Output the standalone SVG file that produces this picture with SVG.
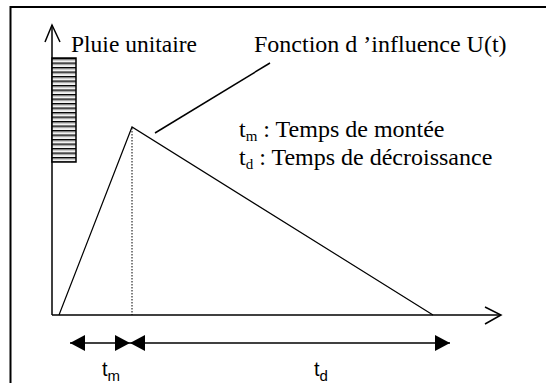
<svg xmlns="http://www.w3.org/2000/svg" width="546" height="383" viewBox="0 0 546 383">
<style>
.ser{font-family:'Liberation Serif','Times New Roman','DejaVu Serif',serif;fill:#000}
.san{font-family:'Liberation Sans',Arial,'DejaVu Sans',sans-serif;fill:#000}
.ln{stroke:#000;fill:none}
</style>
<defs>
<pattern id="hatch" x="0" y="58" width="24" height="4.5" patternUnits="userSpaceOnUse">
<rect x="0" y="0" width="24" height="1.5" fill="#000"/>
<rect x="0" y="1.5" width="24" height="1.5" fill="#bdbdbd"/>
<rect x="0" y="3" width="24" height="1.5" fill="#f4f4f4"/>
</pattern>
<marker id="fa" viewBox="0 0 15 16" refX="15" refY="8" markerWidth="15" markerHeight="16" markerUnits="userSpaceOnUse" orient="auto-start-reverse">
<path d="M0,0 L15,8 L0,16 Z" fill="#000"/>
</marker>
</defs>
<rect width="546" height="383" fill="#fff"/>
<g id="frame">
<path class="ln" stroke-width="2" d="M10.5,383 V7 H546"/>
</g>
<g id="axes">
<path class="ln" stroke-width="1.5" d="M52,315 V25"/>
<path class="ln" stroke-width="1.5" d="M45,42 L52,25 L60,42"/>
<path class="ln" stroke-width="1.5" d="M52,315 H501"/>
<path class="ln" stroke-width="1.5" d="M485,307 L501,315 L485,324"/>
</g>
<g id="pluie">
<rect x="52" y="58" width="24" height="104" fill="url(#hatch)" stroke="#000" stroke-width="1.5"/>
<text class="ser" x="71" y="52" font-size="23.5">Pluie unitaire</text>
</g>
<g id="courbe">
<path class="ln" stroke-width="1.2" d="M59,315 L132,127 L433,315"/>
<path class="ln" stroke-width="1" stroke-dasharray="1.5,1.5" d="M132,128 V315"/>
</g>
<g id="fonction">
<text class="ser" x="254" y="52" font-size="24">Fonction d ’influence U(t)</text>
<path class="ln" stroke-width="1.5" d="M155,133 L270,63"/>
</g>
<g id="legende">
<text class="ser" x="239" y="137" font-size="24">t<tspan font-size="15" dy="4">m</tspan><tspan dy="-4"> : Temps de montée</tspan></text>
<text class="ser" x="239" y="165" font-size="24">t<tspan font-size="15" dy="4">d</tspan><tspan dy="-4"> :  Temps de décroissance</tspan></text>
</g>
<g id="connectors">
<line class="ln" stroke-width="1.5" x1="70" y1="343" x2="130" y2="343" marker-start="url(#fa)" marker-end="url(#fa)"/>
<line class="ln" stroke-width="1.5" x1="130" y1="343" x2="450" y2="343" marker-start="url(#fa)" marker-end="url(#fa)"/>
</g>
<g id="labels">
<text class="san" x="102" y="376" font-size="20">t<tspan font-size="15" dy="5">m</tspan></text>
<text class="san" x="314" y="376" font-size="20">t<tspan font-size="15" dy="5">d</tspan></text>
</g>
</svg>
